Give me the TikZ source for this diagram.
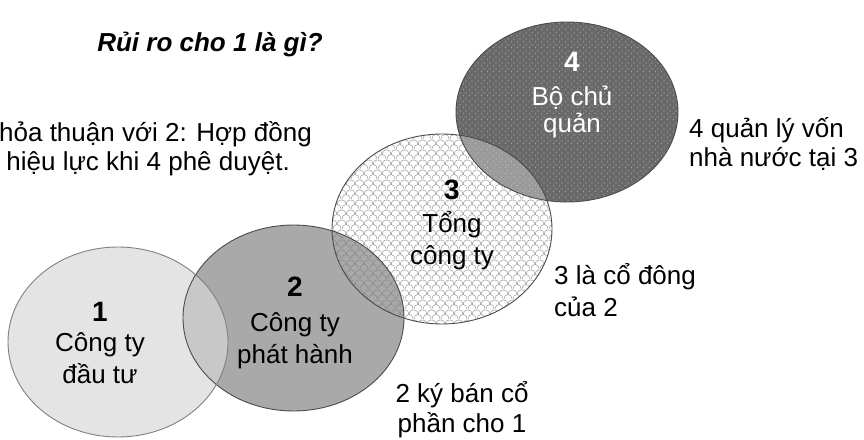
\documentclass[tikz,border=0pt]{standalone}
\usepackage{fontspec}
\setmainfont{Liberation Sans}
\usetikzlibrary{patterns.meta}
\definecolor{eonefill}{gray}{0.844}
\definecolor{etwofill}{gray}{0.5}
\definecolor{efourfill}{gray}{0.41}
\definecolor{scalecol}{gray}{0.62}
\definecolor{bordone}{gray}{0.5}
\definecolor{borddark}{gray}{0.3}
\tikzdeclarepattern{
  name=scales,
  type=uncolored,
  bounding box={(0pt,0pt) and (9pt,10pt)},
  tile size={(9pt,10pt)},
  code={
    \draw[line width=0.6pt] (0pt,0pt) arc[start angle=180,end angle=0,x radius=4.5pt,y radius=5pt];
    \draw[line width=0.6pt] (-4.5pt,5pt) arc[start angle=180,end angle=0,x radius=4.5pt,y radius=5pt];
    \draw[line width=0.6pt] (4.5pt,5pt) arc[start angle=180,end angle=0,x radius=4.5pt,y radius=5pt];
  }
}
\tikzdeclarepattern{
  name=wdots,
  type=uncolored,
  bounding box={(0pt,0pt) and (6pt,6pt)},
  tile size={(6pt,6pt)},
  code={
    \fill (1.2pt,1.0pt) rectangle (2.0pt,2.4pt);
    \fill (4.2pt,4.0pt) rectangle (5.0pt,5.4pt);
  }
}
\tikzset{
  txt/.style={font=\fontsize{26}{30}\selectfont, inner sep=0pt},
  num/.style={font=\fontsize{28}{30}\selectfont\bfseries, inner sep=0pt},
  wtxt/.style={txt, text=white},
  wnum/.style={num, text=white},
}
\begin{document}
\begin{tikzpicture}[x=1pt,y=1pt]
\useasboundingbox (0,0) rectangle (864,439);
% fills
\fill[efourfill] (567,327) ellipse [x radius=111pt, y radius=90pt];
\fill[pattern=wdots, pattern color=white, fill opacity=0.55] (567,327) ellipse [x radius=111pt, y radius=90pt];
\fill[white, fill opacity=0.33] (442,210) ellipse [x radius=110pt, y radius=95pt];
\fill[pattern=scales, pattern color=scalecol] (442,210) ellipse [x radius=110pt, y radius=95pt];
\fill[etwofill, fill opacity=0.68] (293.5,121) ellipse [x radius=110.5pt, y radius=93pt];
\fill[eonefill, fill opacity=0.674] (118,97) ellipse [x radius=110pt, y radius=95pt];
% borders
\draw[borddark, line width=0.9pt] (567,327) ellipse [x radius=111pt, y radius=90pt];
\draw[borddark, line width=0.9pt] (442,210) ellipse [x radius=110pt, y radius=95pt];
\draw[borddark, line width=0.9pt] (293.5,121) ellipse [x radius=110.5pt, y radius=93pt];
\draw[bordone, line width=0.9pt] (118,97) ellipse [x radius=110pt, y radius=95pt];
% texts
\node[txt, font=\fontsize{26}{30}\selectfont\bfseries\itshape, anchor=base] (title) at (210,387) {Rủi ro cho 1 là gì?};
\node[txt, anchor=base east] (left1) at (312,297) {hỏa thuận với 2: Hợp đồng};
\node[txt, anchor=base east] (left2) at (290,268) {hiệu lực khi 4 phê duyệt.};
\node[txt, anchor=base west] (r4a) at (689,301) {4 quản lý vốn};
\node[txt, anchor=base west] (r4b) at (689,272) {nhà nước tại 3};
\node[txt, anchor=base west] (r3a) at (554,154) {3 là cổ đông};
\node[txt, anchor=base west] (r3b) at (554,122) {của 2};
\node[txt, anchor=base] (r2a) at (462,37) {2 ký bán cổ};
\node[txt, anchor=base] (r2b) at (462,7) {phần cho 1};
% ellipse labels
\node[num, anchor=base] (n1) at (100,117) {1};
\node[txt, anchor=base] (n1a) at (100,87) {Công ty};
\node[txt, anchor=base] (n1b) at (100,56) {đầu tư};
\node[num, anchor=base] (n2) at (295,142) {2};
\node[txt, anchor=base] (n2a) at (295,107) {Công ty};
\node[txt, anchor=base] (n2b) at (295,76) {phát hành};
\node[num, anchor=base] (n3) at (452,239) {3};
\node[txt, anchor=base] (n3a) at (452,206) {Tổng};
\node[txt, anchor=base] (n3b) at (452,174) {công ty};
\node[wnum, anchor=base] (n4) at (572,367) {4};
\node[wtxt, anchor=base] (n4a) at (572,333) {Bộ chủ};
\node[wtxt, anchor=base] (n4b) at (572,306) {quản};
\end{tikzpicture}
\end{document}
